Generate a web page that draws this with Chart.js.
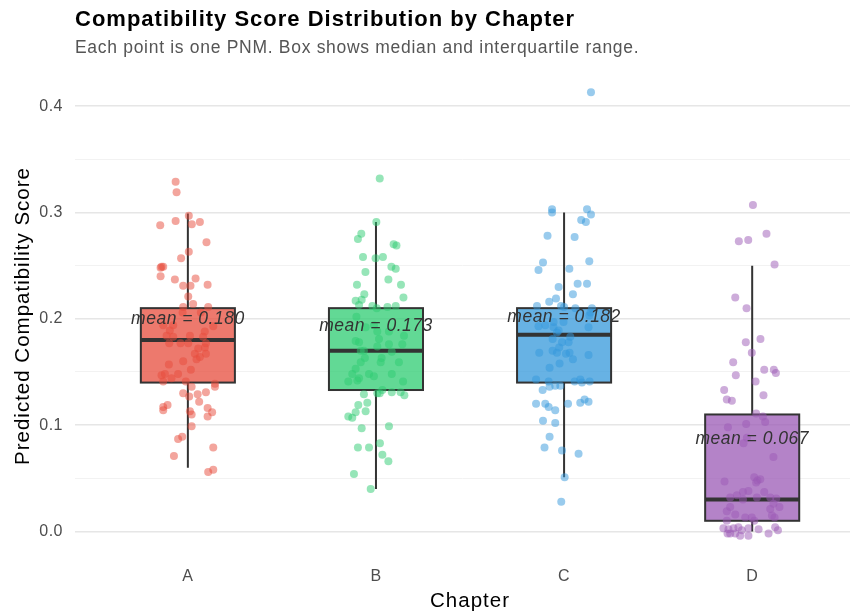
<!DOCTYPE html>
<html>
<head>
<meta charset="utf-8">
<script src="https://cdn.jsdelivr.net/npm/chart.js@4.4.1/dist/chart.umd.min.js"></script>
<style>
  body { margin: 0; background: #fff; }
  #wrap { width: 854px; height: 611px; position: relative; }
</style>
</head>
<body>
<div id="wrap"><canvas id="myChart"></canvas></div>
<script>
var chapters = ["A", "B", "C", "D"];
var colors = ["231, 76, 60", "46, 204, 113", "52, 152, 219", "155, 89, 182"];

// box stats
var q1 = [0.140, 0.133, 0.140, 0.010];
var medians = [0.180, 0.170, 0.185, 0.030];
var q3 = [0.210, 0.210, 0.210, 0.110];
var whiskerLow = [0.060, 0.040, 0.051, 0.000];
var whiskerHigh = [0.299, 0.291, 0.300, 0.250];
var means = [0.180, 0.173, 0.182, 0.067];

var yTicks = [0, 0.05, 0.1, 0.15, 0.2, 0.25, 0.3, 0.35, 0.4];

// one value per PNM, with its horizontal jitter
var scoresA = [0.329, 0.319, 0.297, 0.292, 0.288, 0.289, 0.291, 0.272, 0.263, 0.257, 0.249, 0.248, 0.249, 0.240, 0.237, 0.238, 0.231, 0.231, 0.232, 0.221,
    0.211, 0.214, 0.211, 0.206, 0.206, 0.194, 0.194, 0.193, 0.189, 0.188, 0.184, 0.183, 0.184, 0.183, 0.177, 0.177, 0.177, 0.177, 0.173, 0.172,
    0.167, 0.167, 0.164, 0.162, 0.160, 0.157, 0.152, 0.148, 0.147, 0.148, 0.144, 0.141, 0.141, 0.139, 0.136, 0.136, 0.130, 0.129, 0.131, 0.127,
    0.122, 0.119, 0.117, 0.114, 0.116, 0.113, 0.112, 0.110, 0.108, 0.099, 0.089, 0.087, 0.079, 0.071, 0.058, 0.056];
var jitterA = [-0.065, -0.06, 0.005, -0.065, -0.147, 0.021, 0.064, 0.099, 0.005, -0.036, -0.14, -0.145, -0.131, -0.145, -0.069, 0.041, -0.025, 0.014, 0.105, 0.002,
    -0.025, 0.028, 0.108, 0.069, -0.028, -0.131, -0.078, 0.135, -0.096, 0.09, -0.113, -0.078, 0.011, 0.081, -0.099, -0.039, 0.002, 0.096, 0.09, 0.055,
    0.037, 0.096, 0.064, 0.046, -0.025, -0.101, 0.016, -0.122, -0.14, -0.052, -0.087, -0.131, -0.011, 0.144, 0.02, 0.144, -0.025, 0.052, 0.096, 0.007,
    0.06, -0.108, -0.131, -0.131, 0.105, 0.011, 0.129, 0.02, 0.105, 0.02, -0.03, -0.052, 0.135, -0.074, 0.135, 0.108];

var scoresB = [0.332, 0.291, 0.280, 0.275, 0.270, 0.269, 0.258, 0.257, 0.258, 0.249, 0.247, 0.244, 0.237, 0.232, 0.232, 0.223, 0.217, 0.218, 0.220, 0.213,
    0.212, 0.210, 0.211, 0.212, 0.202, 0.192, 0.194, 0.188, 0.184, 0.188, 0.181, 0.179, 0.178, 0.176, 0.176, 0.174, 0.170, 0.170, 0.169, 0.163,
    0.163, 0.159, 0.159, 0.159, 0.153, 0.148, 0.148, 0.148, 0.146, 0.144, 0.142, 0.141, 0.141, 0.133, 0.131, 0.130, 0.130, 0.131, 0.128, 0.129,
    0.121, 0.119, 0.113, 0.112, 0.108, 0.107, 0.097, 0.099, 0.083, 0.079, 0.079, 0.072, 0.066, 0.054, 0.040];
var jitterB = [0.02, 0.002, -0.078, -0.096, 0.094, 0.109, -0.069, -0.002, 0.037, 0.082, 0.105, -0.056, 0.066, -0.101, 0.133, -0.062, -0.108, -0.076, 0.146, -0.09,
    -0.019, 0.004, 0.061, 0.105, -0.104, -0.055, -0.011, 0.069, 0.149, 0.007, 0.016, -0.108, -0.09, 0.069, 0.14, 0.007, -0.081, -0.064, 0.084, -0.059,
    0.03, 0.025, -0.081, 0.122, -0.108, -0.126, 0.084, -0.037, -0.011, -0.09, -0.099, -0.147, 0.144, 0.034, 0.084, 0.02, 0.007, 0.131, 0.151, -0.064,
    -0.046, -0.094, -0.055, -0.108, -0.147, -0.126, -0.076, 0.069, 0.021, -0.037, -0.096, 0.034, 0.066, -0.117, -0.028];

var scoresC = [0.413, 0.303, 0.300, 0.303, 0.298, 0.293, 0.291, 0.278, 0.277, 0.253, 0.254, 0.246, 0.247, 0.230, 0.233, 0.233, 0.223, 0.219, 0.216, 0.212,
    0.212, 0.210, 0.210, 0.206, 0.203, 0.193, 0.194, 0.197, 0.197, 0.192, 0.192, 0.189, 0.187, 0.183, 0.181, 0.178, 0.178, 0.173, 0.170, 0.168,
    0.168, 0.167, 0.168, 0.166, 0.162, 0.158, 0.154, 0.143, 0.141, 0.141, 0.143, 0.140, 0.141, 0.136, 0.137, 0.137, 0.133, 0.120, 0.120, 0.117,
    0.114, 0.120, 0.121, 0.124, 0.122, 0.104, 0.102, 0.089, 0.079, 0.076, 0.073, 0.051, 0.028, 0.211];
var jitterC = [0.143, -0.064, -0.064, 0.122, 0.143, 0.091, 0.116, -0.088, 0.056, -0.112, 0.134, -0.136, 0.028, -0.029, 0.072, 0.122, 0.047, -0.043, -0.079, -0.144,
    -0.016, 0.06, 0.148, 0.14, 0.134, -0.136, -0.1, -0.056, -0.003, 0.13, -0.056, -0.029, -0.038, 0.033, -0.061, 0.024, -0.011, -0.026, -0.061, -0.132,
    -0.038, 0.01, 0.029, 0.13, 0.047, -0.024, -0.077, -0.149, -0.082, 0.056, 0.086, 0.095, 0.136, -0.077, -0.047, -0.02, -0.114, -0.149, -0.1, -0.082,
    -0.047, 0.021, 0.086, 0.109, 0.13, -0.112, -0.047, -0.077, -0.104, -0.011, 0.077, 0.003, -0.015, 0.0];

var scoresD = [0.307, 0.280, 0.273, 0.274, 0.251, 0.220, 0.210, 0.181, 0.178, 0.168, 0.159, 0.152, 0.152, 0.149, 0.147, 0.141, 0.133, 0.124, 0.123, 0.128,
    0.111, 0.108, 0.103, 0.098, 0.101, 0.088, 0.083, 0.070, 0.047, 0.051, 0.048, 0.049, 0.046, 0.037, 0.038, 0.037, 0.032, 0.034, 0.030, 0.032,
    0.032, 0.031, 0.026, 0.023, 0.023, 0.019, 0.021, 0.016, 0.013, 0.013, 0.015, 0.013, 0.010, 0.010, 0.003, 0.002, 0.003, 0.004, 0.001, 0.003,
    0.002, -0.002, 0.004, 0.001, -0.002, -0.004, -0.004, -0.002, -0.002];
var jitterD = [0.004, 0.076, -0.071, -0.021, 0.119, -0.09, -0.03, 0.044, -0.034, -0.002, -0.101, 0.064, 0.115, 0.126, -0.087, 0.018, -0.149, -0.135, -0.108, 0.06,
    0.021, 0.057, 0.069, -0.129, -0.032, -0.028, -0.046, 0.113, -0.147, 0.011, 0.028, 0.043, 0.021, -0.049, -0.02, 0.064, -0.117, -0.081, -0.049, 0.025,
    0.096, 0.128, 0.113, -0.117, 0.145, -0.135, 0.096, -0.09, -0.037, -0.002, 0.105, 0.119, -0.135, 0.011, -0.153, -0.126, -0.099, -0.073, -0.055, -0.02,
    0.034, 0.087, 0.122, 0.137, -0.09, -0.064, -0.02, -0.117, -0.131];

var allScores = [scoresA, scoresB, scoresC, scoresD];
var allJitter = [jitterA, jitterB, jitterC, jitterD];

var FONT = "'Liberation Sans', Arial, sans-serif";
var boxHalf = 0.25;

var datasets = allScores.map(function (scores, i) {
    return {
        label: chapters[i],
        data: scores.map(function (v, k) {
            return { x: i + 1 + allJitter[i][k], y: v };
        }),
        backgroundColor: "rgba(" + colors[i] + ", 0.5)",
        borderWidth: 0,
        pointRadius: 4,
        pointHoverRadius: 4
    };
});

// boxes, whiskers, mean labels and titles, all placed through the scales
var boxPlugin = {
    id: "boxes",
    beforeDraw: function (chart) {
        chart.ctx.letterSpacing = "0.5px";
    },
    beforeDatasetsDraw: function (chart) {
        var ctx = chart.ctx;
        var x = chart.scales.x;
        var y = chart.scales.y;
        ctx.save();
        chapters.forEach(function (c, i) {
            var cx = x.getPixelForValue(i + 1);
            var left = x.getPixelForValue(i + 1 - boxHalf);
            var right = x.getPixelForValue(i + 1 + boxHalf);
            var top = y.getPixelForValue(q3[i]);
            var bottom = y.getPixelForValue(q1[i]);
            ctx.strokeStyle = "#333333";
            ctx.lineWidth = 2;
            ctx.beginPath();
            ctx.moveTo(cx, y.getPixelForValue(whiskerHigh[i]));
            ctx.lineTo(cx, top);
            ctx.moveTo(cx, bottom);
            ctx.lineTo(cx, y.getPixelForValue(whiskerLow[i]));
            ctx.stroke();
            ctx.fillStyle = "rgba(" + colors[i] + ", 0.75)";
            ctx.fillRect(left, top, right - left, bottom - top);
            ctx.strokeRect(left, top, right - left, bottom - top);
            ctx.lineWidth = 4;
            ctx.beginPath();
            ctx.moveTo(left, y.getPixelForValue(medians[i]));
            ctx.lineTo(right, y.getPixelForValue(medians[i]));
            ctx.stroke();
        });
        ctx.restore();
    },
    afterDatasetsDraw: function (chart) {
        var ctx = chart.ctx;
        var x = chart.scales.x;
        var y = chart.scales.y;
        ctx.save();
        ctx.font = "italic 17.5px " + FONT;
        ctx.letterSpacing = "0.5px";
        ctx.fillStyle = "#333333";
        ctx.textAlign = "center";
        ctx.textBaseline = "middle";
        chapters.forEach(function (c, i) {
            ctx.fillText("mean = " + means[i].toFixed(3), x.getPixelForValue(i + 1), y.getPixelForValue(means[i] + 0.02));
        });
        ctx.restore();
    },
    afterDraw: function (chart) {
        var ctx = chart.ctx;
        var area = chart.chartArea;
        ctx.save();
        ctx.textAlign = "left";
        ctx.textBaseline = "alphabetic";
        ctx.fillStyle = "#000000";
        ctx.font = "bold 22px " + FONT;
        ctx.letterSpacing = "1px";
        ctx.fillText("Compatibility Score Distribution by Chapter", area.left, 26);
        ctx.fillStyle = "#555555";
        ctx.font = "17.5px " + FONT;
        ctx.letterSpacing = "0.7px";
        ctx.fillText("Each point is one PNM. Box shows median and interquartile range.", area.left, 53);

        // axis titles
        ctx.fillStyle = "#000000";
        ctx.font = "20.5px " + FONT;
        ctx.letterSpacing = "1px";
        ctx.textAlign = "center";
        ctx.fillText("Chapter", chart.scales.x.getPixelForValue(2.5), 607);
        ctx.translate(28.5, (area.top + area.bottom) / 2 + 2);
        ctx.rotate(-Math.PI / 2);
        ctx.fillText("Predicted Compatibility Score", 0, 0);
        ctx.restore();
    }
};

var ctx = document.getElementById("myChart").getContext("2d");
var myChart = new Chart(ctx, {
    type: "scatter",
    data: { datasets: datasets },
    options: {
        responsive: true,
        maintainAspectRatio: false,
        animation: false,
        layout: { padding: { top: 70, right: 0, left: 0, bottom: 0 } },
        plugins: {
            legend: { display: false },
            tooltip: { enabled: false }
        },
        scales: {
            x: {
                type: "linear",
                min: 0.4,
                max: 4.52,
                grid: { display: false },
                border: { display: false },
                afterBuildTicks: function (scale) {
                    scale.ticks = chapters.map(function (c, i) { return { value: i + 1 }; });
                },
                afterFit: function (scale) { scale.height = 53; },
                ticks: {
                    padding: 1,
                    color: "#4d4d4d",
                    font: { size: 16, family: FONT },
                    callback: function (v) { return chapters[Math.round(v) - 1]; }
                }
            },
            y: {
                min: -0.025,
                max: 0.434,
                border: { display: false },
                afterBuildTicks: function (scale) {
                    scale.ticks = yTicks.map(function (v) { return { value: v }; });
                },
                afterFit: function (scale) { scale.width = 75; },
                grid: {
                    drawTicks: false,
                    color: function (c) {
                        return Math.round(c.tick.value * 100) % 10 === 0 ? "#e6e6e6" : "#f2f2f2";
                    },
                    lineWidth: function (c) {
                        return Math.round(c.tick.value * 100) % 10 === 0 ? 1.5 : 1;
                    }
                },
                ticks: {
                    padding: 12,
                    color: "#4d4d4d",
                    font: { size: 16, family: FONT },
                    callback: function (v) {
                        return Math.round(v * 100) % 10 === 0 ? v.toFixed(1) : "";
                    }
                }
            }
        }
    },
    plugins: [boxPlugin]
});
</script>
</body>
</html>
